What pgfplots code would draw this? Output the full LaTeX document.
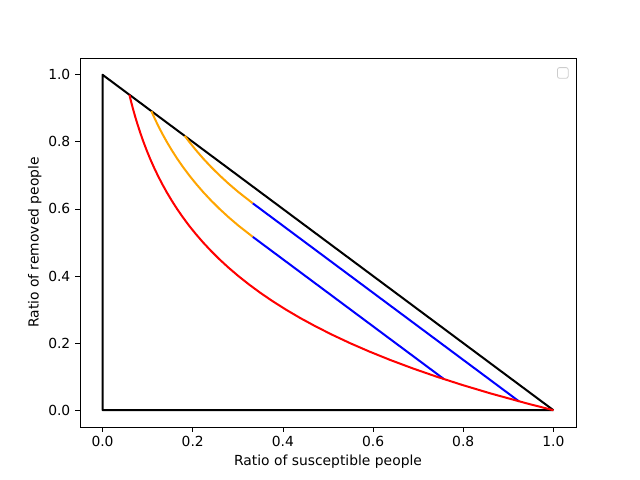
\documentclass[border=0pt]{standalone}
\usepackage{fontspec}
\setmainfont{DejaVu Sans}
\usepackage{pgfplots}
\pgfplotsset{compat=1.18}

\definecolor{mplorange}{HTML}{FFA500}

\begin{document}
\fontsize{10.4}{12.5}\selectfont
\begin{tikzpicture}
\begin{axis}[
  scale only axis,
  width=372pt, height=276.75pt,
  xmin=-0.05, xmax=1.05, ymin=-0.05, ymax=1.05,
  xtick={0,0.2,0.4,0.6,0.8,1.0},
  ytick={0,0.2,0.4,0.6,0.8,1.0},
  xticklabel style={/pgf/number format/.cd, fixed, fixed zerofill, precision=1},
  yticklabel style={/pgf/number format/.cd, fixed, fixed zerofill, precision=1},
  /pgf/number format/assume math mode=true,
  tick align=outside, tick pos=left,
  major tick length=3.6pt,
  every tick/.style={black, line width=0.6pt},
  axis line style={line width=0.6pt},
  xlabel={Ratio of susceptible people},
  ylabel={Ratio of removed people},
  xlabel style={yshift=1pt},
  ylabel style={yshift=-2pt},
  every axis plot/.append style={line width=1.5pt, line join=round},
]
% triangle S+R<=1
\addplot[black] coordinates {(1,0) (0,0) (0,1) (1,0)};

% orange arcs
\addplot[mplorange] coordinates {
  (0.3333,0.5167) (0.3016,0.55) (0.2798,0.575) (0.2596,0.6) (0.2408,0.625)
  (0.2234,0.65) (0.2073,0.675) (0.1923,0.7) (0.1784,0.725) (0.1655,0.75)
  (0.1536,0.775) (0.1425,0.8) (0.1322,0.825) (0.1226,0.85) (0.1121,0.88)
  (0.1083,0.8915)};
\addplot[mplorange] coordinates {
  (0.3333,0.6167) (0.3016,0.65) (0.2798,0.675) (0.2596,0.7) (0.2408,0.725)
  (0.2234,0.75) (0.2073,0.775) (0.1923,0.8) (0.1822,0.818)};

% blue segments
\addplot[blue] coordinates {(0.3333,0.5167) (0.7577,0.0923)};
\addplot[blue] coordinates {(0.3333,0.6167) (0.9236,0.0264)};

% red trajectory
\addplot[red] coordinates {
  (1,0) (0.9418,0.02) (0.8607,0.05) (0.7985,0.075) (0.7408,0.1) (0.6873,0.125)
  (0.6376,0.15) (0.5916,0.175) (0.5488,0.2) (0.5092,0.225) (0.4724,0.25)
  (0.4382,0.275) (0.4066,0.3) (0.3772,0.325) (0.3499,0.35) (0.3247,0.375)
  (0.3012,0.4) (0.2794,0.425) (0.2592,0.45) (0.2405,0.475) (0.2231,0.5)
  (0.2070,0.525) (0.1920,0.55) (0.1782,0.575) (0.1653,0.6) (0.1534,0.625)
  (0.1423,0.65) (0.1320,0.675) (0.1225,0.7) (0.1136,0.725) (0.1054,0.75)
  (0.0978,0.775) (0.0907,0.8) (0.0842,0.825) (0.0781,0.85) (0.0724,0.875)
  (0.0672,0.9) (0.0633,0.92) (0.0596,0.9404)};

% empty legend box
\node[draw=black!20, rounded corners=1.5pt, minimum size=8pt, inner sep=0pt,
  anchor=north east, line width=0.6pt] at (rel axis cs:0.985,0.975) {};
\end{axis}
\path ([xshift=-60pt,yshift=-39.75pt]current axis.south west)
  rectangle ([xshift=48pt,yshift=43.5pt]current axis.north east);
\end{tikzpicture}
\end{document}
